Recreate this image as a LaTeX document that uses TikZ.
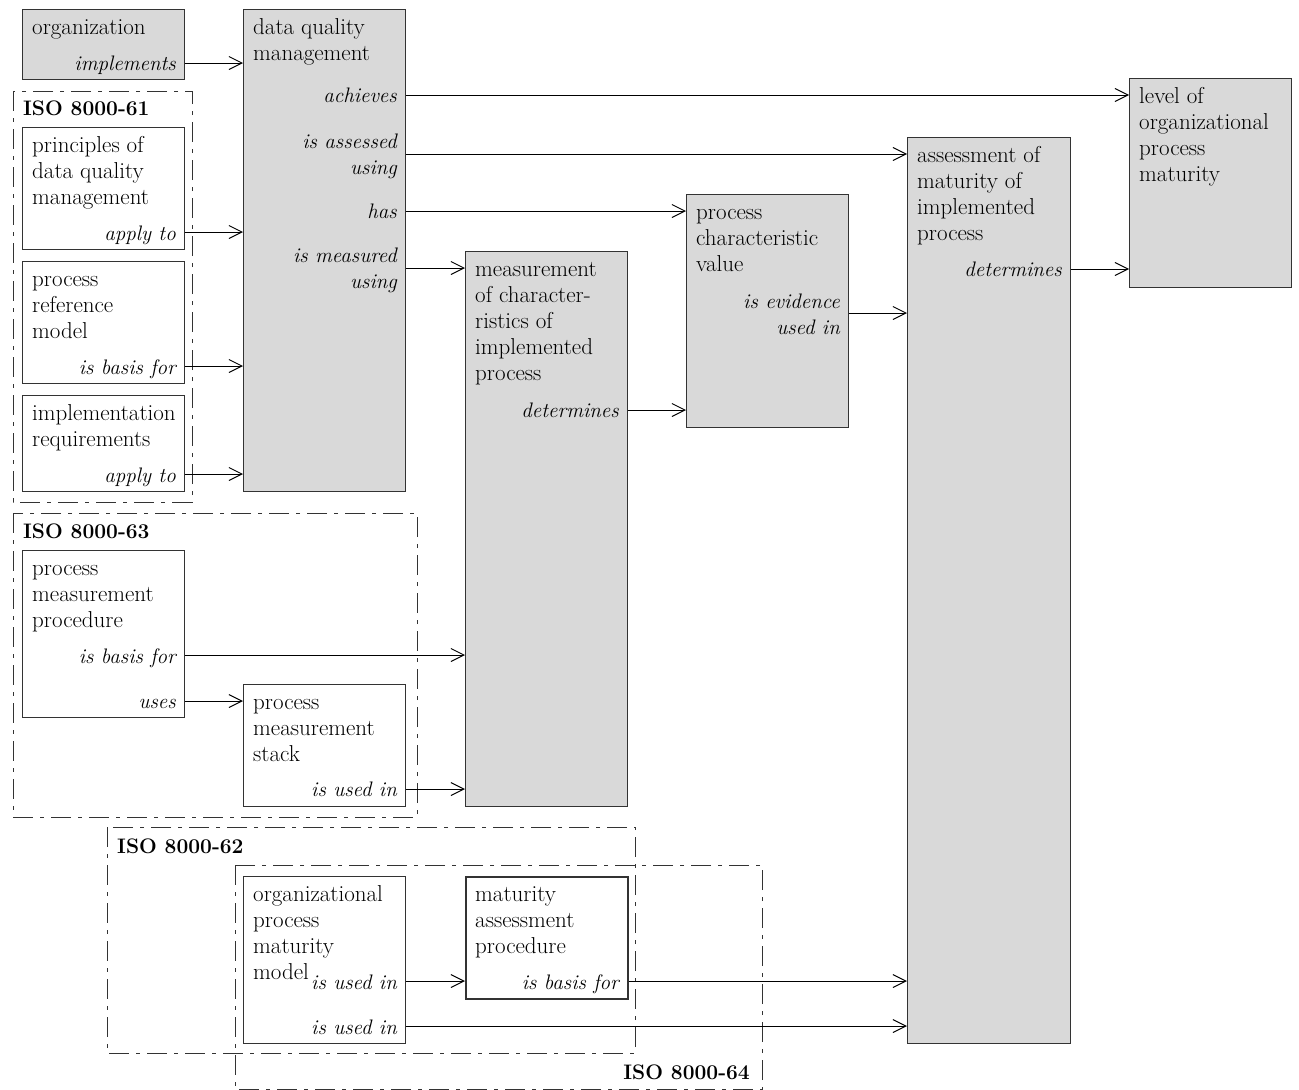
\documentclass[tikz,border=0pt]{standalone}
\usetikzlibrary{arrows.meta,positioning}
\definecolor{boxgrey}{HTML}{D9D9D9}
\definecolor{edge}{HTML}{333333}
\newcommand{\figfont}{\fontsize{21}{26}\selectfont}
\newcommand{\namefont}{\fontsize{23}{26}\selectfont}
\begin{document}
\begin{tikzpicture}[x=1pt, y=-1pt,
  box/.style={draw=edge, line width=1.3pt, anchor=north west, inner sep=0pt, minimum width=162pt},
  grey/.style={box, fill=boxgrey},
  ttl/.style={anchor=north west, align=left, inner sep=0pt, font=\namefont},
  rel/.style={anchor=north east, align=right, inner sep=0pt, font=\figfont\itshape},
  iso/.style={anchor=north west, inner sep=0pt, font=\figfont\bfseries},
  frame/.style={draw=edge, line width=0.9pt, dash pattern=on 20pt off 7pt on 4pt off 7pt},
  arr/.style={draw=black, line width=1pt, -{Straight Barb[length=13pt, width=13pt]}}]
\useasboundingbox (0,0) rectangle (1299,1090);

% standard parts
\draw[frame] (13,91) rectangle (192,502);
\draw[frame] (13,513) rectangle (417,817);
\draw[frame] (107,827) rectangle (635,1053);
\draw[frame] (235,865) rectangle (762,1089);
\node[iso] (iso61) at (23,97) {\strut ISO 8000-61};
\node[iso] (iso63) at (23,520) {\strut ISO 8000-63};
\node[iso] (iso62) at (117,835) {\strut ISO 8000-62};
\node[iso, anchor=north east] (iso64) at (750,1061) {\strut ISO 8000-64};

% boxes
\node[grey, minimum height=70pt] (org) at (22,9) {};
\node[grey, minimum height=482pt] (dqm) at (243,9) {};
\node[box, minimum height=122pt] (prin) at (22,127) {};
\node[box, minimum height=122pt] (prm) at (22,261) {};
\node[box, minimum height=96pt] (impl) at (22,395) {};
\node[box, minimum height=167pt] (pmp) at (22,550) {};
\node[box, minimum height=122pt] (pms) at (243,684) {};
\node[grey, minimum height=555pt] (mci) at (465,251) {};
\node[grey, minimum height=233pt] (pcv) at (686,194) {};
\node[grey, minimum width=163pt, minimum height=906pt] (amp) at (907,137) {};
\node[grey, minimum height=209pt] (lopm) at (1129,78) {};
\node[box, minimum height=167pt] (opmm) at (243,876) {};
\node[box, line width=1.8pt, minimum height=122pt] (map) at (465,876) {};

\node[ttl, below right=7pt and 10pt of org.north west] (orgname) {\strut organization};
\node[ttl, below right=7pt and 10pt of dqm.north west] (dqmname) {\strut data quality\\management};
\node[ttl, below right=7pt and 10pt of prin.north west] (prinname) {\strut principles of\\data quality\\management};
\node[ttl, below right=7pt and 10pt of prm.north west] (prmname) {\strut process\\reference\\model};
\node[ttl, below right=7pt and 10pt of impl.north west] (implname) {\strut implementation\\requirements};
\node[ttl, below right=7pt and 10pt of pmp.north west] (pmpname) {\strut process\\measurement\\procedure};
\node[ttl, below right=7pt and 10pt of pms.north west] (pmsname) {\strut process\\measurement\\stack};
\node[ttl, below right=7pt and 10pt of mci.north west] (mciname) {\strut measurement\\of character-\\ristics of\\implemented\\process};
\node[ttl, below right=7pt and 10pt of pcv.north west] (pcvname) {\strut process\\characteristic\\value};
\node[ttl, below right=7pt and 10pt of amp.north west] (ampname) {\strut assessment of\\maturity of\\implemented\\process};
\node[ttl, below right=7pt and 10pt of lopm.north west] (lopmname) {\strut level of\\organizational\\process\\maturity};
\node[ttl, below right=7pt and 10pt of opmm.north west] (opmmname) {\strut organizational\\process\\maturity\\model};
\node[ttl, below right=7pt and 10pt of map.north west] (mapname) {\strut maturity\\assessment\\procedure};

% relations
\node[rel] (implements) at (176,52) {\strut implements};
\node[rel] (achieves) at (397,84) {\strut achieves};
\node[rel] (assessed) at (397,130) {\strut is assessed\\using};
\node[rel] (has) at (397,200) {\strut has};
\node[rel] (measured) at (397,244) {\strut is measured\\using};
\node[rel] (prinapply) at (176,222) {\strut apply to};
\node[rel] (prmbasis) at (176,356) {\strut is basis for};
\node[rel] (implapply) at (176,464) {\strut apply to};
\node[rel] (pmpbasis) at (176,645) {\strut is basis for};
\node[rel] (uses) at (176,690) {\strut uses};
\node[rel] (pmsused) at (397,778) {\strut is used in};
\node[rel] (mcidet) at (619,399) {\strut determines};
\node[rel] (evidence) at (840,290) {\strut is evidence\\used in};
\node[rel] (ampdet) at (1062,258) {\strut determines};
\node[rel] (opmmused) at (397,971) {\strut is used in};
\node[rel] (opmmusedb) at (397,1016) {\strut is used in};
\node[rel] (mapbasis) at (619,971) {\strut is basis for};

\draw[arr] (org.east |- 0,63) -- (dqm.west |- 0,63);
\draw[arr] (prin.east |- 0,232) -- (dqm.west |- 0,232);
\draw[arr] (prm.east |- 0,366) -- (dqm.west |- 0,366);
\draw[arr] (impl.east |- 0,474) -- (dqm.west |- 0,474);
\draw[arr] (dqm.east |- 0,95) -- (lopm.west |- 0,95);
\draw[arr] (dqm.east |- 0,154) -- (amp.west |- 0,154);
\draw[arr] (dqm.east |- 0,211) -- (pcv.west |- 0,211);
\draw[arr] (dqm.east |- 0,268) -- (mci.west |- 0,268);
\draw[arr] (pmp.east |- 0,655) -- (mci.west |- 0,655);
\draw[arr] (pmp.east |- 0,701) -- (pms.west |- 0,701);
\draw[arr] (pms.east |- 0,789) -- (mci.west |- 0,789);
\draw[arr] (mci.east |- 0,410) -- (pcv.west |- 0,410);
\draw[arr] (pcv.east |- 0,313) -- (amp.west |- 0,313);
\draw[arr] (amp.east |- 0,269) -- (lopm.west |- 0,269);
\draw[arr] (opmm.east |- 0,981) -- (map.west |- 0,981);
\draw[arr] (map.east |- 0,981) -- (amp.west |- 0,981);
\draw[arr] (opmm.east |- 0,1026) -- (amp.west |- 0,1026);
\end{tikzpicture}
\end{document}
